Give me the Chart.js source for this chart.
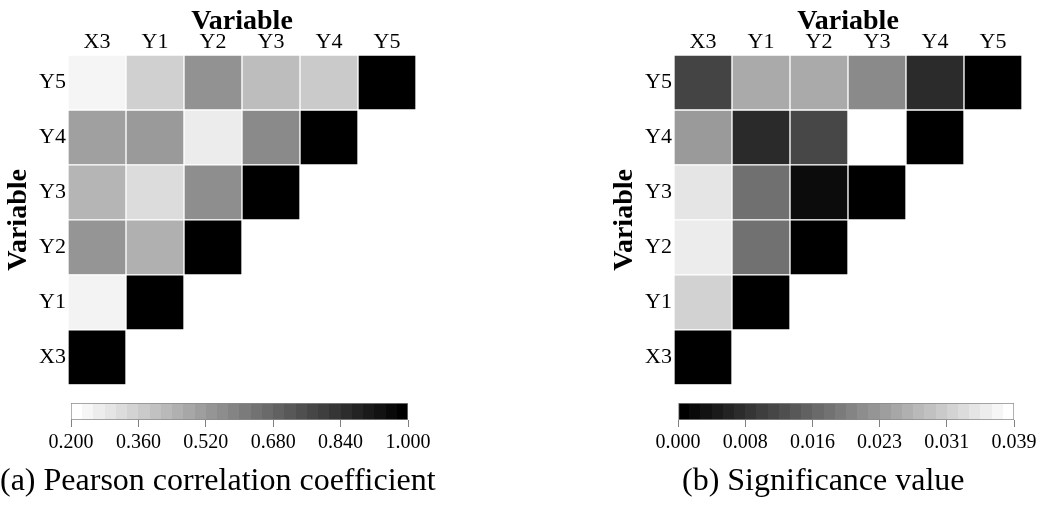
<!DOCTYPE html>
<html><head><meta charset="utf-8">
<script src="https://cdn.jsdelivr.net/npm/chart.js@4.4.1/dist/chart.umd.min.js"></script>
<style>
html,body{margin:0;padding:0;background:#fff;}
body{width:1041px;height:512px;overflow:hidden;position:relative;font-family:"Liberation Serif","Times New Roman",serif;}
canvas{position:absolute;}
.cap{position:absolute;font-size:32px;line-height:32px;color:#000;white-space:nowrap;}
</style></head><body>
<canvas id="heatA" width="440" height="400" style="left:0;top:0"></canvas>
<canvas id="heatB" width="435" height="400" style="left:606px;top:0"></canvas>
<canvas id="barA" width="440" height="70" style="left:0;top:395px"></canvas>
<canvas id="barB" width="435" height="70" style="left:606px;top:395px"></canvas>
<div class="cap" style="left:0;top:463px">(a) Pearson correlation coefficient</div>
<div class="cap" style="left:682px;top:463px">(b) Significance value</div>
<script>
// ---- categories (columns left→right, rows bottom→top) ----
const variables = ['X3', 'Y1', 'Y2', 'Y3', 'Y4', 'Y5'];

// ---- (a) Pearson correlation coefficient, one array per row (columns X3..) ----
const pearsonX3 = [1.000];
const pearsonY1 = [0.238, 1.000];
const pearsonY2 = [0.533, 0.448, 1.000];
const pearsonY3 = [0.432, 0.310, 0.554, 1.000];
const pearsonY4 = [0.498, 0.517, 0.260, 0.567, 1.000];
const pearsonY5 = [0.231, 0.347, 0.542, 0.407, 0.366, 1.000];

// ---- (b) Significance value ----
const sigX3 = [0.000];
const sigY1 = [0.0321, 0.000];
const sigY2 = [0.0361, 0.0173, 0.000];
const sigY3 = [0.0350, 0.0171, 0.0018, 0.000];
const sigY4 = [0.0236, 0.0064, 0.0109, 0.0390, 0.000];
const sigY5 = [0.0104, 0.0260, 0.0260, 0.0211, 0.0066, 0.000];

// ---- colour bar ticks ----
const pearsonMin = 0.2, pearsonMax = 1.0;
const pearsonTickValues = [0.200, 0.360, 0.520, 0.680, 0.840, 1.000];
const pearsonTickLabels = ['0.200', '0.360', '0.520', '0.680', '0.840', '1.000'];
const sigMin = 0.0, sigMax = 0.039;
const sigTickValues = [0.0, 0.0078, 0.0156, 0.0234, 0.0312, 0.039];
const sigTickLabels = ['0.000', '0.008', '0.016', '0.023', '0.031', '0.039'];

const FONT = '"Liberation Serif", "Times New Roman", serif';
const rowCenters = [0.5, 1.5, 2.5, 3.5, 4.5, 5.5];
const STEPS = 30;

function grey(g) { g = Math.max(0, Math.min(255, Math.round(g))); return `rgb(${g},${g},${g})`; }
const pearsonColor = v => grey(255 * (1 - (v - pearsonMin) / (pearsonMax - pearsonMin)));
const sigColor = v => grey(255 * (v - sigMin) / (sigMax - sigMin));

function heatmap(id, rows, colorFn, rightPad) {
  const datasets = rows.map((row, r) => ({
    label: variables[r],
    data: variables.map((c, i) => i < row.length ? [r, r + 1] : null),
    backgroundColor: variables.map((c, i) => i < row.length ? colorFn(row[i]) : 'rgba(0,0,0,0)'),
    borderColor: '#ffffff',
    borderWidth: 1,
    borderSkipped: false,
    grouped: false,
    barPercentage: 1,
    categoryPercentage: 1
  }));
  new Chart(document.getElementById(id), {
    type: 'bar',
    data: { labels: variables, datasets },
    options: {
      responsive: false, animation: false, devicePixelRatio: 1,
      layout: { padding: { left: 0, top: 0, right: rightPad, bottom: 9 } },
      plugins: { legend: { display: false }, tooltip: { enabled: false } },
      scales: {
        x: {
          type: 'category', position: 'top', offset: true,
          afterFit: s => { s.height = 55; },
          grid: { display: false, drawTicks: false }, border: { display: false },
          ticks: { padding: 0, color: '#000', font: { family: FONT, size: 22 }, maxRotation: 0, autoSkip: false },
          title: { display: true, text: 'Variable', color: '#000', font: { family: FONT, size: 28, weight: 'bold' }, padding: { top: 5, bottom: 0 } }
        },
        y: {
          type: 'linear', position: 'left', min: 0, max: 6,
          afterBuildTicks: s => { s.ticks = rowCenters.map(v => ({ value: v })); },
          afterFit: s => { s.width = 68; },
          grid: { display: false, drawTicks: false }, border: { display: false },
          ticks: { padding: 2, color: '#000', font: { family: FONT, size: 22 }, autoSkip: false,
                   callback: v => variables[Math.floor(v)] },
          title: { display: true, text: 'Variable', color: '#000', font: { family: FONT, size: 28, weight: 'bold' }, padding: { top: 2, bottom: 0 } }
        }
      }
    }
  });
}

function colorbar(id, min, max, tickValues, tickLabels, darkToLight, leftPad, rightPad) {
  new Chart(document.getElementById(id), {
    type: 'bar',
    data: { labels: ['scale'], datasets: [{
      data: [[min, max]],
      backgroundColor: ctx => {
        const ca = ctx.chart.chartArea;
        if (!ca) return '#888';
        const g = ctx.chart.ctx.createLinearGradient(ca.left, 0, ca.right, 0);
        for (let k = 0; k < STEPS; k++) {
          const t = k / (STEPS - 1);
          const c = grey(255 * (darkToLight ? t : 1 - t));
          g.addColorStop(k / STEPS, c);
          g.addColorStop((k + 1) / STEPS, c);
        }
        return g;
      },
      borderColor: '#8a8a8a', borderWidth: 1, borderSkipped: false,
      barPercentage: 1, categoryPercentage: 1
    }]},
    options: {
      indexAxis: 'y',
      responsive: false, animation: false, devicePixelRatio: 1,
      layout: { padding: { left: leftPad, right: rightPad, top: 8, bottom: 5 } },
      plugins: { legend: { display: false }, tooltip: { enabled: false } },
      scales: {
        y: { display: false },
        x: {
          type: 'linear', position: 'bottom', min, max,
          afterBuildTicks: s => { s.ticks = tickValues.map(v => ({ value: v })); },
          afterFit: s => { s.height = 40; },
          grid: { display: true, drawOnChartArea: false, drawTicks: true, tickLength: 7, color: '#808080', lineWidth: 1 },
          border: { display: false },
          ticks: { padding: 4, color: '#000', font: { family: FONT, size: 20 }, maxRotation: 0, autoSkip: false,
                   callback: (v, i) => tickLabels[i] }
        }
      }
    }
  });
}

heatmap('heatA', [pearsonX3, pearsonY1, pearsonY2, pearsonY3, pearsonY4, pearsonY5], pearsonColor, 24);
heatmap('heatB', [sigX3, sigY1, sigY2, sigY3, sigY4, sigY5], sigColor, 19);
colorbar('barA', pearsonMin, pearsonMax, pearsonTickValues, pearsonTickLabels, false, 71, 32);
colorbar('barB', sigMin, sigMax, sigTickValues, sigTickLabels, true, 72, 27);
</script>
</body></html>
